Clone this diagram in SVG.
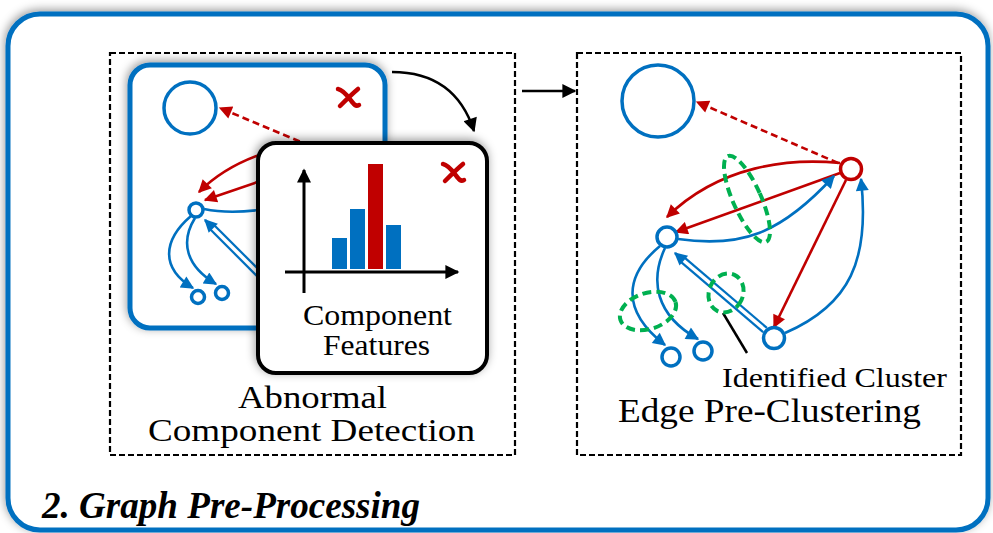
<svg xmlns="http://www.w3.org/2000/svg" width="993" height="533" viewBox="0 0 993 533">
  <style>
    text { font-family: "Liberation Serif", Tinos, "Times New Roman", Times, serif; fill: #000; }
    .dash-box { fill: none; stroke: #000; stroke-width: 2.2; stroke-dasharray: 6 3; }
    .blue { fill: none; stroke: #0070C0; stroke-width: 2.6; }
    .red { fill: none; stroke: #C00000; stroke-width: 2.6; }
    .node-b { fill: #fff; stroke: #0070C0; stroke-width: 3.5; }
    .node-r { fill: #fff; stroke: #C00000; stroke-width: 3.5; }
    .cluster { fill: none; stroke: #00B050; stroke-width: 4; stroke-dasharray: 9 5; }
    .xmark { fill: none; stroke: #C00000; stroke-width: 4.5; stroke-linecap: round; }
  </style>
  <defs>
    <filter id="soft" x="-10%" y="-10%" width="120%" height="120%">
      <feDropShadow dx="-1" dy="-2" stdDeviation="5" flood-color="#000" flood-opacity="0.4"/>
    </filter>
    <marker id="hb" viewBox="0 0 10 10" refX="9" refY="5" markerWidth="15" markerHeight="13" markerUnits="userSpaceOnUse" orient="auto">
      <path d="M0,0 L10,5 L0,10 z" fill="#0070C0"/>
    </marker>
    <marker id="hr" viewBox="0 0 10 10" refX="9" refY="5" markerWidth="15" markerHeight="13" markerUnits="userSpaceOnUse" orient="auto">
      <path d="M0,0 L10,5 L0,10 z" fill="#C00000"/>
    </marker>
    <marker id="hk" viewBox="0 0 10 10" refX="9" refY="5" markerWidth="17" markerHeight="14" markerUnits="userSpaceOnUse" orient="auto">
      <path d="M0,0 L10,5 L0,10 z" fill="#000"/>
    </marker>
  </defs>

  <!-- outer panel -->
  <g id="panel">
    <rect x="8" y="14" width="980" height="516" rx="32" fill="#fff" stroke="#0070C0" stroke-width="5" filter="url(#soft)"/>
    <text x="42" y="518" font-size="38" font-weight="bold" font-style="italic" textLength="378" lengthAdjust="spacingAndGlyphs">2. Graph Pre-Processing</text>
  </g>

  <!-- stage 1: abnormal component detection -->
  <g id="stage-detection">
    <rect class="dash-box" x="110" y="53" width="405" height="402"/>
    <g id="component">
      <rect x="130" y="65" width="255" height="263" rx="20" fill="#fff" stroke="#0070C0" stroke-width="5" filter="url(#soft)"/>
      <circle cx="190" cy="108" r="26" fill="#fff" stroke="#0070C0" stroke-width="3.5"/>
      <path class="xmark" d="M338,89 C344,90 349,98 353,103 C355,106 357,106 359,105 M358,89 C352,94 346,100 340,106"/>
      <g id="component-edges">
        <path class="red" d="M320,150 L220,108" stroke-dasharray="7 4" marker-end="url(#hr)"/>
        <path class="red" d="M275,150 Q228,163 199,192" marker-end="url(#hr)"/>
        <path class="red" d="M275,176 L205,200" marker-end="url(#hr)"/>
        <path class="blue" d="M204,209 Q232,215 272,208"/>
        <path d="M285,300 L212,227" stroke="#0070C0" stroke-width="8" fill="none"/>
        <path d="M285,300 L212,227" stroke="#fff" stroke-width="3.5" fill="none"/>
        <path class="blue" d="M212,227 L205,220" marker-end="url(#hb)"/>
        <path class="blue" d="M191,216 C163,240 160,268 193,288" marker-end="url(#hb)"/>
        <path class="blue" d="M195,218 C180,242 186,266 216,284" marker-end="url(#hb)"/>
      </g>
      <circle class="node-b" cx="196" cy="210" r="7" stroke-width="3"/>
      <circle class="node-b" cx="198" cy="297" r="6.5" stroke-width="3"/>
      <circle class="node-b" cx="222" cy="293" r="6.5" stroke-width="3"/>
    </g>
    <g id="features">
      <rect x="258" y="143" width="229" height="230" rx="18" fill="#fff" stroke="#000" stroke-width="4" filter="url(#soft)"/>
      <path d="M304,293 L304,170" stroke="#000" stroke-width="3" fill="none" marker-end="url(#hk)"/>
      <path d="M285,272 L458,272" stroke="#000" stroke-width="3" fill="none" marker-end="url(#hk)"/>
      <rect x="332" y="238" width="15" height="31" fill="#0070C0"/>
      <rect x="350" y="209" width="15" height="60" fill="#0070C0"/>
      <rect x="368" y="164" width="15" height="105" fill="#C00000"/>
      <rect x="386" y="225" width="15" height="44" fill="#0070C0"/>
      <path class="xmark" d="M443,164 C449,165 454,173 458,178 C460,181 462,181 464,180 M463,164 C457,169 451,175 445,181"/>
      <text x="303" y="325" font-size="29" textLength="149" lengthAdjust="spacingAndGlyphs">Component</text>
      <text x="323" y="355" font-size="29" textLength="107" lengthAdjust="spacingAndGlyphs">Features</text>
    </g>
    <text x="238" y="408" font-size="31" textLength="149" lengthAdjust="spacingAndGlyphs">Abnormal</text>
    <text x="148" y="441" font-size="31" textLength="327" lengthAdjust="spacingAndGlyphs">Component Detection</text>
  </g>

  <!-- stage 2: edge pre-clustering -->
  <g id="stage-clustering">
    <rect class="dash-box" x="577" y="53" width="384" height="402"/>
    <g id="n-big"><circle cx="658" cy="101" r="36" fill="#fff" stroke="#0070C0" stroke-width="3.5"/></g>
    <g id="edges">
      <path class="red" d="M838,163 L697,102" stroke-dasharray="7 4" marker-end="url(#hr)"/>
      <path class="red" d="M840,163 C790,158 720,165 667,217" marker-end="url(#hr)"/>
      <path class="red" d="M840,173 L676,232" marker-end="url(#hr)"/>
      <path class="blue" d="M678,239 C740,248 780,235 834,176" marker-end="url(#hb)"/>
      <path class="red" d="M846,180 L774,327" marker-end="url(#hr)"/>
      <path class="blue" d="M785,333 C850,305 870,260 861,179" marker-end="url(#hb)"/>
      <path d="M765,330 L683,260" stroke="#0070C0" stroke-width="8" fill="none"/>
      <path d="M765,330 L683,260" stroke="#fff" stroke-width="3.5" fill="none"/>
      <path class="blue" d="M683,260 L675,253" marker-end="url(#hb)"/>
      <path class="blue" d="M660,246 C625,275 620,310 665,345" marker-end="url(#hb)"/>
      <path class="blue" d="M665,248 C650,280 655,315 698,339" marker-end="url(#hb)"/>
      <path d="M723,313 L747,353" stroke="#000" stroke-width="2.5" fill="none"/>
    </g>
    <g id="clusters">
      <ellipse class="cluster" cx="747" cy="199" rx="14" ry="47" transform="rotate(-24 747 199)"/>
      <ellipse class="cluster" cx="726" cy="293" rx="17" ry="20" transform="rotate(25 726 293)"/>
      <ellipse class="cluster" cx="648" cy="311" rx="29" ry="18" transform="rotate(-18 648 311)"/>
    </g>
    <g id="n-red"><circle class="node-r" cx="851" cy="169" r="10.5"/></g>
    <g id="n-left"><circle class="node-b" cx="667" cy="237" r="10"/></g>
    <g id="n-bottom"><circle class="node-b" cx="774" cy="338" r="10.5"/></g>
    <g id="n-leaf1"><circle class="node-b" cx="671" cy="357" r="9"/></g>
    <g id="n-leaf2"><circle class="node-b" cx="703" cy="351" r="9"/></g>
    <text x="722" y="387" font-size="27" textLength="225" lengthAdjust="spacingAndGlyphs">Identified Cluster</text>
    <text x="618" y="422" font-size="34" textLength="303" lengthAdjust="spacingAndGlyphs">Edge Pre-Clustering</text>
  </g>

  <!-- flow arrows -->
  <g id="flow">
    <path d="M392,72 Q455,72 474,131" stroke="#000" stroke-width="2.5" fill="none" marker-end="url(#hk)"/>
    <path d="M522,91 L575,91" stroke="#000" stroke-width="2.5" fill="none" marker-end="url(#hk)"/>
  </g>
</svg>
